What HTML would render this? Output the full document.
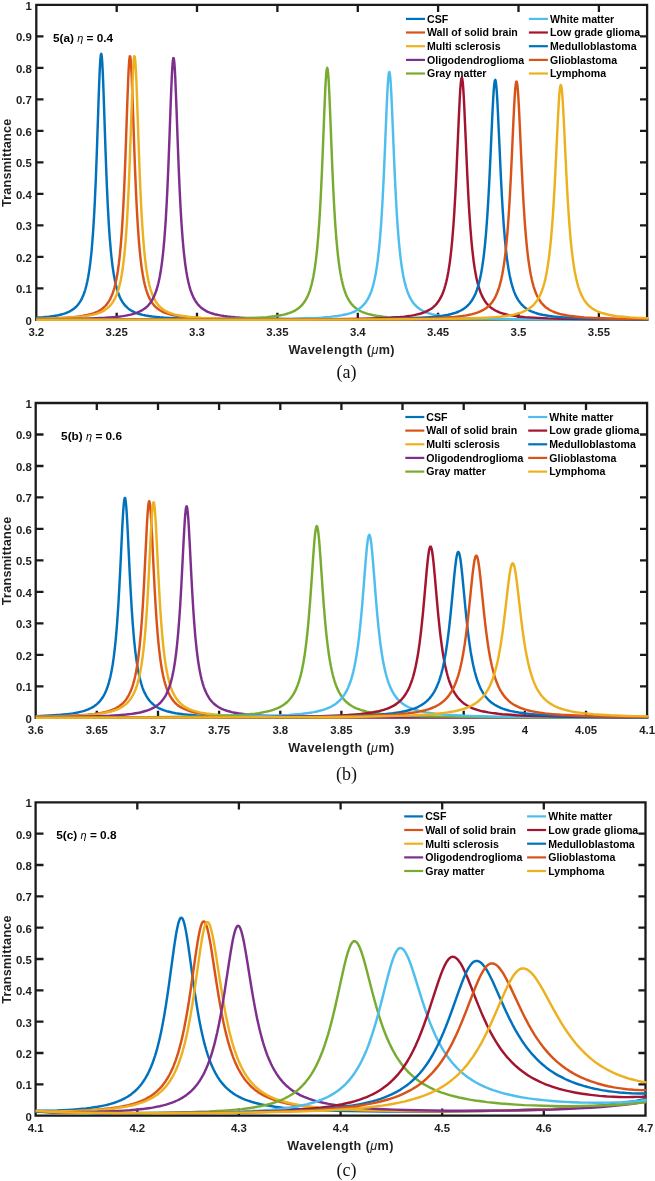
<!DOCTYPE html>
<html lang="en"><head><meta charset="utf-8">
<title>Transmittance spectra</title>
<style>
html,body{margin:0;padding:0;background:#fff;}
body{width:655px;height:1181px;overflow:hidden;}
svg{display:block;will-change:transform;}
text{font-family:'Liberation Sans', Arial, Helvetica, sans-serif;font-weight:bold;fill:#1f1f1f;}
.tk{font-size:11.4px;}
.lb{font-size:12.6px;}
.lg{font-size:10.6px;fill:#000;}
.an{font-size:11.8px;fill:#000;}
.cap{font-family:'Liberation Serif', 'Times New Roman', Times, serif;font-weight:normal;font-size:18px;fill:#111;}
.gk{font-style:italic;font-weight:normal;}
</style></head><body>
<svg width="655" height="1181" viewBox="0 0 655 1181">
<rect width="655" height="1181" fill="#ffffff"/>
<defs>
<clipPath id="clip-a"><rect x="36.1" y="4.9" width="612.2" height="316.2"/></clipPath>
<clipPath id="clip-b"><rect x="35.5" y="403.0" width="612.8" height="316.0"/></clipPath>
<clipPath id="clip-c"><rect x="35.4" y="802.4" width="611.3" height="314.4"/></clipPath>
</defs>
<g id="panel-a">
<path fill="none" stroke="#1a1a1a" stroke-width="2.30" stroke-linejoin="miter" d="M36.3 4.9 H647.1 V319.8 H36.3 Z M36.3 288.3 H43.5 M647.1 288.3 h-7.1 M36.3 256.8 H43.5 M647.1 256.8 h-7.1 M36.3 225.3 H43.5 M647.1 225.3 h-7.1 M36.3 193.8 H43.5 M647.1 193.8 h-7.1 M36.3 162.3 H43.5 M647.1 162.3 h-7.1 M36.3 130.9 H43.5 M647.1 130.9 h-7.1 M36.3 99.4 H43.5 M647.1 99.4 h-7.1 M36.3 67.9 H43.5 M647.1 67.9 h-7.1 M36.3 36.4 H43.5 M647.1 36.4 h-7.1 M116.7 4.9 v7.1 M116.7 319.8 v-7.1 M197.0 4.9 v7.1 M197.0 319.8 v-7.1 M277.4 4.9 v7.1 M277.4 319.8 v-7.1 M357.8 4.9 v7.1 M357.8 319.8 v-7.1 M438.1 4.9 v7.1 M438.1 319.8 v-7.1 M518.5 4.9 v7.1 M518.5 319.8 v-7.1 M598.9 4.9 v7.1 M598.9 319.8 v-7.1"/>
<g fill="none" stroke-width="2.45" stroke-linejoin="round" clip-path="url(#clip-a)">
<path stroke="#0072BD" d="M36.3 317.8 L42.8 317.3 L48.8 316.7 L53.8 316.0 L58.3 315.2 L60.3 314.7 L62.3 314.2 L64.3 313.6 L65.8 313.1 L67.3 312.5 L68.8 311.8 L70.3 311.0 L71.8 310.2 L73.3 309.1 L74.3 308.4 L75.3 307.5 L76.3 306.6 L77.3 305.5 L78.3 304.3 L79.3 302.9 L80.3 301.4 L81.3 299.6 L82.3 297.6 L83.3 295.3 L83.8 294.0 L84.8 291.1 L85.3 289.5 L86.3 285.8 L87.3 281.5 L88.3 276.3 L89.3 270.1 L90.3 262.7 L91.3 253.6 L91.8 248.3 L92.8 235.9 L93.3 228.7 L94.3 211.9 L94.8 202.1 L95.8 179.6 L96.8 153.1 L98.8 93.8 L99.3 80.3 L99.8 68.8 L100.3 60.2 L100.8 55.0 L101.3 53.8 L101.8 56.6 L102.3 63.3 L102.8 73.1 L103.3 85.5 L103.8 99.5 L105.3 144.4 L106.3 172.0 L106.8 184.4 L107.8 206.1 L108.8 224.0 L109.8 238.6 L110.8 250.4 L111.3 255.5 L112.3 264.3 L112.8 268.0 L113.8 274.6 L114.8 280.0 L115.8 284.6 L116.8 288.5 L117.8 291.7 L118.8 294.5 L119.8 297.0 L120.8 299.1 L122.3 301.7 L123.8 303.9 L125.3 305.7 L126.8 307.2 L127.8 308.1 L128.8 308.9 L130.8 310.3 L131.8 310.9 L133.3 311.7 L135.3 312.6 L137.8 313.5 L140.3 314.3 L142.8 314.9 L145.8 315.5 L148.8 316.0 L152.3 316.5 L155.8 316.9 L159.8 317.3 L164.3 317.6 L169.3 317.9 L174.8 318.2 L187.8 318.7 L204.3 319.0 L223.3 319.2 L246.8 319.4 L276.8 319.5 L315.3 319.6 L431.8 319.7 L648.3 319.8"/>
<path stroke="#D95319" d="M36.3 318.8 L47.8 318.5 L57.8 318.1 L66.3 317.6 L73.3 317.1 L79.3 316.4 L82.3 316.0 L84.8 315.5 L87.3 315.0 L89.3 314.5 L91.3 314.0 L93.3 313.4 L95.3 312.6 L96.8 312.0 L98.3 311.3 L99.8 310.4 L101.3 309.4 L102.8 308.3 L104.3 307.0 L105.3 306.0 L106.3 304.9 L107.3 303.6 L108.3 302.2 L109.3 300.6 L110.3 298.8 L111.3 296.6 L112.3 294.2 L112.8 292.9 L113.8 289.8 L114.3 288.1 L115.3 284.3 L116.3 279.7 L116.8 277.1 L117.8 271.2 L118.8 264.0 L119.8 255.3 L120.8 244.7 L121.8 231.8 L122.8 215.9 L123.3 206.8 L124.3 185.6 L125.3 160.5 L127.3 102.9 L128.3 76.8 L128.8 66.7 L129.3 59.7 L129.8 56.2 L130.3 56.6 L130.8 60.8 L131.3 68.5 L131.8 79.1 L132.3 91.8 L134.8 163.2 L135.8 187.9 L136.8 208.7 L137.8 225.8 L138.8 239.9 L139.8 251.3 L140.3 256.3 L141.3 264.8 L141.8 268.5 L142.8 274.8 L143.8 280.2 L144.8 284.7 L145.8 288.5 L146.8 291.7 L147.8 294.5 L148.8 296.9 L149.8 298.9 L151.3 301.6 L152.8 303.8 L154.3 305.6 L155.8 307.1 L156.8 308.0 L157.8 308.8 L159.8 310.2 L161.8 311.3 L163.8 312.3 L165.8 313.1 L168.3 313.9 L170.8 314.6 L173.8 315.3 L176.8 315.8 L180.3 316.3 L183.8 316.8 L187.8 317.2 L192.3 317.5 L197.3 317.9 L202.3 318.1 L214.8 318.6 L230.3 318.9 L248.3 319.2 L270.8 319.4 L299.3 319.5 L336.3 319.6 L445.8 319.7 L648.3 319.8"/>
<path stroke="#EDB120" d="M36.3 318.9 L48.3 318.6 L58.8 318.3 L67.8 317.8 L75.3 317.3 L81.8 316.6 L84.8 316.3 L87.3 315.9 L89.8 315.4 L92.3 314.9 L94.3 314.4 L96.3 313.9 L98.3 313.2 L99.8 312.6 L101.8 311.8 L103.3 311.0 L104.8 310.1 L106.3 309.1 L107.8 307.9 L108.8 307.0 L110.3 305.5 L111.3 304.3 L112.3 302.9 L113.3 301.4 L114.3 299.7 L115.3 297.7 L116.3 295.5 L116.8 294.2 L117.8 291.4 L118.3 289.8 L119.3 286.3 L120.3 282.1 L120.8 279.7 L121.8 274.3 L122.8 267.7 L123.8 259.9 L124.8 250.3 L125.8 238.6 L126.8 224.3 L127.3 215.9 L128.3 196.6 L128.8 185.6 L129.8 160.5 L131.8 102.9 L132.8 76.8 L133.3 66.7 L133.8 59.7 L134.3 56.2 L134.8 56.6 L135.3 60.8 L135.8 68.5 L136.3 79.1 L136.8 91.8 L139.3 163.2 L140.3 187.9 L141.3 208.7 L142.3 225.8 L143.3 239.9 L144.3 251.3 L144.8 256.3 L145.8 264.8 L146.3 268.5 L147.3 274.8 L148.3 280.2 L149.3 284.7 L150.3 288.5 L151.3 291.7 L152.3 294.5 L153.3 296.9 L154.3 298.9 L155.8 301.6 L157.3 303.8 L158.8 305.6 L160.3 307.1 L161.3 308.0 L162.3 308.8 L164.3 310.2 L166.3 311.3 L168.3 312.3 L170.3 313.1 L172.8 313.9 L175.3 314.6 L178.3 315.3 L181.3 315.8 L184.8 316.3 L188.3 316.8 L192.3 317.2 L196.8 317.5 L201.8 317.9 L206.8 318.1 L219.3 318.6 L234.8 318.9 L252.8 319.2 L275.3 319.4 L303.3 319.5 L339.8 319.6 L448.3 319.7 L648.3 319.8"/>
<path stroke="#7E2F8E" d="M36.3 319.3 L55.8 319.1 L71.8 318.9 L84.8 318.6 L95.8 318.2 L105.3 317.7 L113.3 317.1 L119.8 316.5 L122.8 316.1 L125.8 315.6 L128.3 315.1 L130.8 314.6 L133.3 313.9 L135.3 313.3 L137.3 312.6 L139.3 311.7 L141.3 310.7 L142.8 309.8 L144.3 308.8 L145.8 307.7 L147.3 306.3 L148.3 305.3 L149.8 303.5 L150.8 302.2 L151.8 300.6 L152.8 298.9 L153.8 296.9 L154.8 294.6 L155.8 292.0 L156.8 289.0 L157.8 285.4 L158.3 283.5 L159.3 279.0 L159.8 276.5 L160.8 270.7 L161.3 267.4 L162.3 259.9 L163.3 250.8 L164.3 239.8 L165.3 226.5 L165.8 218.8 L166.8 201.1 L167.3 190.9 L168.3 168.1 L169.3 142.1 L170.8 100.7 L171.3 88.0 L171.8 76.7 L172.3 67.6 L172.8 61.2 L173.3 58.1 L173.8 58.4 L174.3 62.2 L174.8 69.2 L175.3 78.8 L176.3 103.4 L177.8 144.8 L178.8 170.5 L179.8 193.0 L180.8 212.1 L181.8 227.9 L182.8 241.0 L183.8 251.8 L184.8 260.7 L185.3 264.5 L186.3 271.3 L187.3 277.0 L188.3 281.8 L189.3 285.8 L190.3 289.3 L191.3 292.3 L192.3 294.8 L193.3 297.1 L194.8 299.9 L196.3 302.3 L197.8 304.3 L199.3 305.9 L200.3 306.9 L201.3 307.8 L203.3 309.3 L204.3 309.9 L205.8 310.8 L207.8 311.8 L209.8 312.6 L212.3 313.5 L214.8 314.2 L217.3 314.8 L220.3 315.4 L223.8 316.0 L227.3 316.5 L231.3 316.9 L235.3 317.3 L240.3 317.6 L245.3 317.9 L257.3 318.4 L271.8 318.8 L288.8 319.1 L309.8 319.3 L336.3 319.4 L370.3 319.5 L469.8 319.7 L648.3 319.8"/>
<path stroke="#77AC30" d="M36.3 319.7 L132.3 319.5 L164.8 319.4 L190.3 319.3 L210.8 319.1 L227.8 318.8 L241.3 318.5 L252.8 318.0 L257.8 317.7 L262.8 317.4 L266.8 317.1 L270.8 316.7 L274.3 316.3 L277.8 315.8 L280.8 315.2 L283.8 314.6 L286.3 314.0 L288.8 313.2 L290.8 312.5 L292.8 311.6 L294.8 310.6 L296.3 309.7 L298.3 308.4 L299.8 307.2 L301.3 305.7 L302.8 304.1 L304.3 302.1 L305.3 300.5 L306.8 297.9 L307.8 295.8 L308.8 293.4 L309.8 290.6 L310.8 287.4 L311.8 283.7 L312.8 279.3 L313.3 276.9 L314.3 271.3 L314.8 268.1 L315.8 260.9 L316.3 256.7 L317.3 247.2 L318.3 235.7 L319.3 221.9 L319.8 213.9 L320.8 195.8 L321.8 174.6 L322.8 150.5 L324.3 111.9 L325.3 88.9 L325.8 79.7 L326.3 72.9 L326.8 68.9 L327.3 67.9 L327.8 70.1 L328.3 75.3 L328.8 83.1 L329.3 93.1 L329.8 104.5 L332.3 167.6 L333.3 189.8 L334.3 208.8 L335.3 224.8 L336.3 238.2 L337.3 249.2 L338.3 258.4 L338.8 262.4 L339.8 269.4 L340.3 272.5 L341.3 277.9 L341.8 280.3 L342.8 284.5 L343.8 288.1 L344.8 291.2 L345.8 293.9 L346.8 296.2 L347.8 298.3 L349.3 300.9 L350.8 303.0 L352.3 304.9 L353.8 306.4 L354.8 307.3 L355.8 308.1 L357.3 309.2 L359.3 310.5 L361.3 311.5 L363.3 312.4 L365.3 313.1 L367.8 313.9 L370.3 314.5 L373.3 315.2 L376.3 315.7 L379.8 316.2 L383.3 316.7 L387.3 317.1 L391.8 317.4 L396.3 317.7 L406.8 318.2 L419.3 318.6 L434.3 318.9 L452.8 319.2 L475.8 319.3 L504.3 319.5 L540.3 319.6 L648.3 319.7"/>
<path stroke="#4DBEEE" d="M36.3 319.7 L157.8 319.6 L229.3 319.4 L254.8 319.2 L274.8 319.0 L291.3 318.7 L304.8 318.3 L316.3 317.9 L321.3 317.6 L325.8 317.2 L329.8 316.9 L333.8 316.4 L337.3 316.0 L340.8 315.4 L343.8 314.8 L346.3 314.3 L348.8 313.6 L351.3 312.8 L353.8 311.8 L355.8 310.8 L357.8 309.7 L359.3 308.7 L361.3 307.1 L362.8 305.7 L364.3 304.1 L365.8 302.2 L367.3 299.9 L368.3 298.1 L369.8 295.0 L370.8 292.6 L371.8 289.8 L372.8 286.5 L373.8 282.7 L374.8 278.3 L375.8 273.2 L376.3 270.2 L377.3 263.6 L377.8 259.8 L378.8 251.1 L379.8 240.8 L380.8 228.4 L381.8 213.5 L382.8 195.9 L383.8 175.4 L384.8 152.3 L386.3 115.5 L387.3 93.4 L387.8 84.5 L388.3 77.7 L388.8 73.4 L389.3 72.0 L389.8 73.4 L390.3 77.7 L390.8 84.5 L391.3 93.4 L392.3 115.5 L393.8 152.3 L394.8 175.4 L395.8 195.9 L396.8 213.5 L397.3 221.3 L398.3 234.8 L399.3 246.2 L400.3 255.7 L401.3 263.6 L401.8 267.1 L402.8 273.2 L403.3 275.9 L404.3 280.6 L405.3 284.7 L406.3 288.2 L407.3 291.2 L408.3 293.8 L409.3 296.1 L410.8 299.0 L411.8 300.7 L413.3 302.9 L414.8 304.7 L416.3 306.2 L417.8 307.5 L419.3 308.7 L420.8 309.7 L422.8 310.8 L424.8 311.8 L426.8 312.6 L429.3 313.4 L431.8 314.1 L434.3 314.7 L437.3 315.3 L440.3 315.8 L443.8 316.3 L447.3 316.7 L451.3 317.1 L455.8 317.5 L460.3 317.7 L470.3 318.2 L482.8 318.6 L497.8 318.9 L516.3 319.2 L538.8 319.3 L566.8 319.5 L648.3 319.6"/>
<path stroke="#A2142F" d="M36.3 319.7 L188.3 319.7 L275.8 319.5 L306.3 319.4 L330.3 319.2 L349.8 318.9 L365.8 318.6 L379.3 318.2 L385.3 318.0 L390.8 317.7 L395.8 317.3 L400.3 317.0 L404.3 316.6 L407.8 316.1 L411.3 315.6 L414.3 315.1 L417.3 314.4 L419.8 313.8 L422.3 313.0 L424.8 312.1 L426.8 311.2 L428.8 310.2 L430.3 309.3 L431.3 308.7 L433.3 307.1 L434.3 306.2 L435.3 305.3 L436.8 303.6 L438.3 301.6 L439.8 299.2 L441.3 296.4 L442.3 294.2 L443.3 291.7 L444.3 288.8 L445.3 285.5 L446.3 281.7 L447.3 277.2 L448.3 271.9 L449.3 265.8 L449.8 262.3 L450.8 254.3 L451.3 249.7 L452.3 239.4 L453.3 227.0 L454.3 212.3 L455.3 195.1 L456.3 175.1 L458.8 118.1 L459.8 97.5 L460.3 89.2 L460.8 82.9 L461.3 79.0 L461.8 77.6 L462.3 79.0 L462.8 82.9 L463.3 89.2 L463.8 97.5 L464.3 107.2 L467.3 175.1 L468.3 195.1 L468.8 204.0 L469.3 212.3 L470.3 227.0 L471.3 239.4 L472.3 249.7 L473.3 258.4 L473.8 262.3 L474.8 269.0 L475.3 271.9 L476.3 277.2 L476.8 279.5 L477.8 283.7 L478.8 287.2 L479.8 290.3 L480.8 293.0 L481.8 295.4 L482.8 297.4 L483.8 299.2 L484.8 300.9 L486.3 303.0 L487.3 304.2 L488.8 305.8 L490.3 307.1 L491.8 308.3 L493.3 309.3 L495.3 310.5 L496.8 311.2 L498.8 312.1 L500.8 312.9 L503.3 313.6 L505.8 314.3 L508.3 314.9 L511.3 315.4 L514.3 315.9 L517.3 316.3 L520.8 316.7 L524.8 317.1 L528.8 317.4 L537.8 317.9 L548.3 318.4 L561.3 318.7 L576.8 319.0 L595.8 319.2 L619.3 319.4 L648.3 319.5"/>
<path stroke="#0072BD" d="M36.3 319.7 L202.3 319.7 L297.3 319.5 L330.3 319.4 L356.3 319.2 L376.8 319.0 L393.8 318.7 L408.3 318.3 L420.3 317.8 L425.3 317.5 L430.3 317.1 L434.3 316.8 L438.3 316.3 L441.8 315.9 L445.3 315.3 L448.3 314.7 L451.3 314.0 L453.8 313.3 L456.3 312.5 L458.8 311.5 L460.8 310.5 L462.8 309.4 L464.8 308.0 L466.8 306.4 L468.3 305.0 L469.8 303.3 L471.3 301.3 L472.8 299.0 L474.3 296.2 L475.8 292.9 L476.8 290.2 L477.8 287.2 L478.8 283.7 L479.8 279.7 L480.8 275.0 L481.8 269.5 L482.3 266.4 L483.3 259.4 L483.8 255.5 L484.8 246.5 L485.8 235.8 L486.3 229.7 L487.3 216.0 L488.3 199.8 L489.3 181.2 L490.3 160.3 L492.3 115.9 L493.3 96.8 L493.8 89.3 L494.3 83.9 L494.8 80.6 L495.3 79.9 L495.8 81.6 L496.3 85.8 L496.8 92.1 L497.3 100.2 L497.8 109.7 L500.8 175.1 L501.8 194.5 L502.3 203.3 L502.8 211.4 L503.8 225.8 L504.8 238.1 L505.8 248.4 L506.8 257.1 L507.3 260.9 L508.3 267.7 L509.3 273.4 L509.8 276.0 L510.8 280.5 L511.3 282.6 L512.3 286.2 L513.3 289.4 L514.3 292.1 L515.3 294.5 L516.3 296.6 L517.3 298.5 L518.3 300.1 L519.3 301.6 L520.8 303.5 L521.8 304.7 L523.3 306.2 L524.8 307.4 L526.3 308.5 L527.8 309.5 L529.3 310.4 L530.8 311.1 L532.8 312.0 L534.8 312.7 L537.3 313.5 L539.8 314.2 L542.3 314.8 L545.3 315.3 L548.3 315.8 L551.3 316.2 L554.8 316.6 L562.3 317.3 L571.3 317.8 L581.8 318.3 L594.3 318.6 L608.8 318.9 L626.8 319.1 L648.3 319.3"/>
<path stroke="#D95319" d="M36.3 319.8 L212.3 319.7 L312.3 319.5 L346.8 319.4 L373.8 319.2 L395.3 319.0 L412.8 318.7 L427.8 318.4 L440.3 317.9 L445.3 317.6 L450.3 317.2 L454.8 316.9 L458.8 316.4 L462.8 315.9 L466.3 315.4 L469.3 314.8 L472.3 314.1 L474.8 313.4 L477.3 312.6 L479.8 311.7 L481.8 310.7 L483.3 309.9 L484.3 309.3 L486.3 308.0 L487.3 307.2 L488.3 306.3 L489.8 304.9 L491.3 303.2 L492.8 301.2 L494.3 298.8 L495.8 296.0 L497.3 292.5 L498.3 289.8 L499.3 286.8 L500.3 283.2 L501.3 279.1 L502.3 274.3 L503.3 268.6 L503.8 265.5 L504.8 258.3 L505.3 254.2 L506.3 245.0 L507.3 234.0 L507.8 227.8 L508.8 213.6 L509.8 197.1 L510.8 178.1 L511.8 157.0 L513.3 123.6 L514.3 103.4 L514.8 95.1 L515.3 88.4 L515.8 83.8 L516.3 81.6 L516.8 81.9 L517.3 84.6 L517.8 89.6 L518.3 96.6 L518.8 105.3 L519.3 115.1 L521.8 169.9 L522.8 189.8 L523.3 198.9 L523.8 207.3 L524.8 222.4 L525.8 235.2 L526.8 246.0 L527.8 255.1 L528.3 259.1 L529.3 266.1 L530.3 272.1 L530.8 274.8 L531.8 279.5 L532.3 281.6 L533.3 285.4 L533.8 287.1 L534.8 290.1 L535.3 291.5 L536.3 294.0 L537.3 296.2 L538.3 298.1 L539.3 299.8 L540.3 301.3 L541.3 302.7 L542.8 304.4 L543.8 305.5 L545.3 306.9 L546.8 308.0 L548.3 309.1 L549.8 310.0 L551.8 311.0 L553.3 311.7 L555.3 312.5 L557.3 313.2 L559.8 313.9 L562.3 314.5 L564.8 315.0 L567.3 315.5 L570.3 315.9 L573.3 316.3 L576.8 316.7 L584.3 317.4 L593.3 317.9 L603.8 318.3 L615.8 318.7 L630.3 318.9 L648.3 319.1"/>
<path stroke="#EDB120" d="M36.3 319.8 L231.8 319.7 L341.3 319.6 L378.3 319.4 L407.8 319.3 L431.3 319.1 L450.3 318.8 L466.8 318.5 L479.8 318.0 L485.8 317.7 L490.8 317.4 L495.3 317.1 L499.8 316.7 L503.8 316.2 L507.3 315.7 L510.8 315.2 L513.8 314.6 L516.8 313.8 L519.3 313.1 L521.8 312.3 L524.3 311.2 L526.8 310.0 L528.8 308.8 L530.8 307.3 L531.8 306.5 L532.8 305.6 L533.8 304.6 L534.8 303.5 L536.3 301.6 L537.8 299.4 L539.3 296.7 L540.8 293.5 L541.8 291.0 L542.8 288.2 L543.3 286.6 L544.3 283.1 L545.3 279.1 L546.3 274.4 L547.3 268.9 L547.8 265.8 L548.8 258.9 L549.3 255.0 L550.3 246.1 L551.3 235.6 L552.3 223.3 L553.3 208.8 L553.8 200.7 L554.8 182.8 L555.8 162.8 L557.8 120.5 L558.8 102.2 L559.3 94.9 L559.8 89.5 L560.3 86.0 L560.8 84.9 L561.3 86.0 L561.8 89.5 L562.3 94.9 L562.8 102.2 L563.8 120.5 L566.3 173.0 L567.3 192.0 L567.8 200.7 L568.8 216.3 L569.8 229.7 L570.8 241.1 L571.8 250.7 L572.8 258.9 L573.8 265.8 L574.8 271.7 L575.8 276.8 L576.3 279.1 L577.3 283.1 L578.3 286.6 L578.8 288.2 L579.8 291.0 L580.3 292.3 L581.3 294.6 L582.3 296.7 L583.3 298.5 L584.3 300.2 L585.3 301.6 L586.3 302.9 L587.3 304.1 L588.3 305.1 L589.8 306.5 L590.8 307.3 L592.3 308.4 L593.8 309.4 L595.3 310.3 L596.8 311.0 L598.8 311.9 L600.8 312.6 L602.8 313.3 L604.8 313.8 L606.8 314.3 L608.8 314.8 L611.3 315.2 L613.8 315.7 L616.8 316.1 L623.3 316.8 L630.3 317.4 L638.8 317.9 L648.3 318.3"/>
</g>
<text class="tk" x="31.8" y="324.7" text-anchor="end">0</text>
<text class="tk" x="31.8" y="293.2" text-anchor="end">0.1</text>
<text class="tk" x="31.8" y="261.7" text-anchor="end">0.2</text>
<text class="tk" x="31.8" y="230.2" text-anchor="end">0.3</text>
<text class="tk" x="31.8" y="198.7" text-anchor="end">0.4</text>
<text class="tk" x="31.8" y="167.2" text-anchor="end">0.5</text>
<text class="tk" x="31.8" y="135.8" text-anchor="end">0.6</text>
<text class="tk" x="31.8" y="104.3" text-anchor="end">0.7</text>
<text class="tk" x="31.8" y="72.8" text-anchor="end">0.8</text>
<text class="tk" x="31.8" y="41.3" text-anchor="end">0.9</text>
<text class="tk" x="31.8" y="9.8" text-anchor="end">1</text>
<text class="tk" x="36.3" y="335.7" text-anchor="middle">3.2</text>
<text class="tk" x="116.7" y="335.7" text-anchor="middle">3.25</text>
<text class="tk" x="197.0" y="335.7" text-anchor="middle">3.3</text>
<text class="tk" x="277.4" y="335.7" text-anchor="middle">3.35</text>
<text class="tk" x="357.8" y="335.7" text-anchor="middle">3.4</text>
<text class="tk" x="438.1" y="335.7" text-anchor="middle">3.45</text>
<text class="tk" x="518.5" y="335.7" text-anchor="middle">3.5</text>
<text class="tk" x="598.9" y="335.7" text-anchor="middle">3.55</text>
<text class="lb" x="341.7" y="353.7" text-anchor="middle" letter-spacing="0.42">Wavelength (<tspan class="gk">μ</tspan>m)</text>
<text class="lb" transform="translate(11.0 162.8) rotate(-90)" text-anchor="middle" letter-spacing="0.25">Transmittance</text>
<text class="cap" x="346.5" y="377.9" text-anchor="middle">(a)</text>
<text class="an" x="52.9" y="42.3">5(a) <tspan class="gk" font-size="11">η</tspan> = 0.4</text>
<path d="M406.0 18.9 h19" stroke="#0072BD" stroke-width="2.20" fill="none"/>
<text class="lg" x="427.0" y="22.7">CSF</text>
<path d="M406.0 32.5 h19" stroke="#D95319" stroke-width="2.20" fill="none"/>
<text class="lg" x="427.0" y="36.3">Wall of solid brain</text>
<path d="M406.0 46.2 h19" stroke="#EDB120" stroke-width="2.20" fill="none"/>
<text class="lg" x="427.0" y="50.0">Multi sclerosis</text>
<path d="M406.0 59.9 h19" stroke="#7E2F8E" stroke-width="2.20" fill="none"/>
<text class="lg" x="427.0" y="63.6">Oligodendroglioma</text>
<path d="M406.0 73.5 h19" stroke="#77AC30" stroke-width="2.20" fill="none"/>
<text class="lg" x="427.0" y="77.3">Gray matter</text>
<path d="M528.9 18.9 h19" stroke="#4DBEEE" stroke-width="2.20" fill="none"/>
<text class="lg" x="550.0" y="22.7">White matter</text>
<path d="M528.9 32.5 h19" stroke="#A2142F" stroke-width="2.20" fill="none"/>
<text class="lg" x="550.0" y="36.3">Low grade glioma</text>
<path d="M528.9 46.2 h19" stroke="#0072BD" stroke-width="2.20" fill="none"/>
<text class="lg" x="550.0" y="50.0">Medulloblastoma</text>
<path d="M528.9 59.9 h19" stroke="#D95319" stroke-width="2.20" fill="none"/>
<text class="lg" x="550.0" y="63.6">Glioblastoma</text>
<path d="M528.9 73.5 h19" stroke="#EDB120" stroke-width="2.20" fill="none"/>
<text class="lg" x="550.0" y="77.3">Lymphoma</text>
</g>
<g id="panel-b">
<path fill="none" stroke="#1a1a1a" stroke-width="2.30" stroke-linejoin="miter" d="M35.7 403.0 H647.1 V717.8 H35.7 Z M35.7 686.3 H43.5 M647.1 686.3 h-7.1 M35.7 654.8 H43.5 M647.1 654.8 h-7.1 M35.7 623.4 H43.5 M647.1 623.4 h-7.1 M35.7 591.9 H43.5 M647.1 591.9 h-7.1 M35.7 560.4 H43.5 M647.1 560.4 h-7.1 M35.7 528.9 H43.5 M647.1 528.9 h-7.1 M35.7 497.4 H43.5 M647.1 497.4 h-7.1 M35.7 466.0 H43.5 M647.1 466.0 h-7.1 M35.7 434.5 H43.5 M647.1 434.5 h-7.1 M96.8 403.0 v7.1 M96.8 717.8 v-7.1 M158.0 403.0 v7.1 M158.0 717.8 v-7.1 M219.1 403.0 v7.1 M219.1 717.8 v-7.1 M280.3 403.0 v7.1 M280.3 717.8 v-7.1 M341.4 403.0 v7.1 M341.4 717.8 v-7.1 M402.5 403.0 v7.1 M402.5 717.8 v-7.1 M463.7 403.0 v7.1 M463.7 717.8 v-7.1 M524.8 403.0 v7.1 M524.8 717.8 v-7.1 M586.0 403.0 v7.1 M586.0 717.8 v-7.1"/>
<g fill="none" stroke-width="2.45" stroke-linejoin="round" clip-path="url(#clip-b)">
<path stroke="#0072BD" d="M35.7 716.2 L45.2 715.8 L53.7 715.3 L60.7 714.8 L67.2 714.1 L72.7 713.4 L75.2 713.0 L77.7 712.5 L80.2 711.9 L82.2 711.4 L84.2 710.8 L86.2 710.1 L88.2 709.4 L89.7 708.7 L91.2 708.0 L92.7 707.1 L94.2 706.2 L95.7 705.1 L97.2 703.9 L98.2 702.9 L99.7 701.3 L100.7 700.1 L101.7 698.8 L102.7 697.3 L103.7 695.6 L104.7 693.7 L106.2 690.4 L107.2 687.8 L107.7 686.4 L108.7 683.2 L109.2 681.4 L110.2 677.5 L110.7 675.3 L111.7 670.3 L112.7 664.5 L113.7 657.6 L114.7 649.5 L115.7 639.8 L116.7 628.3 L117.2 621.8 L118.2 607.1 L118.7 598.8 L120.2 570.6 L122.2 529.1 L122.7 519.6 L123.2 511.4 L123.7 504.8 L124.2 500.2 L124.7 498.0 L125.2 498.2 L125.7 500.9 L126.2 506.0 L126.7 512.9 L127.2 521.4 L127.7 531.0 L129.7 572.6 L130.7 591.8 L131.7 608.7 L132.7 623.2 L133.7 635.5 L134.2 640.8 L135.2 650.3 L136.2 658.3 L136.7 661.9 L137.7 668.1 L138.2 670.8 L139.2 675.7 L140.2 679.9 L141.2 683.5 L142.2 686.7 L142.7 688.1 L143.7 690.7 L144.7 692.9 L146.2 695.8 L147.7 698.2 L149.2 700.3 L150.7 702.0 L151.7 703.0 L152.7 703.9 L154.7 705.6 L156.7 706.9 L157.7 707.5 L159.2 708.3 L161.7 709.4 L164.2 710.4 L166.7 711.2 L169.2 711.8 L172.2 712.5 L175.7 713.2 L179.2 713.7 L183.2 714.2 L187.2 714.6 L191.7 715.0 L196.7 715.4 L202.2 715.7 L208.2 715.9 L221.7 716.4 L238.7 716.8 L258.2 717.0 L282.7 717.2 L312.7 717.4 L350.7 717.5 L460.2 717.7 L648.2 717.7"/>
<path stroke="#D95319" d="M35.7 716.8 L49.7 716.5 L61.7 716.2 L71.7 715.8 L80.2 715.3 L87.7 714.7 L94.2 714.0 L97.2 713.5 L99.7 713.1 L102.2 712.7 L104.7 712.1 L106.7 711.6 L108.7 711.1 L110.7 710.4 L112.7 709.7 L114.7 708.8 L116.2 708.0 L117.7 707.2 L119.2 706.2 L120.7 705.1 L122.2 703.8 L123.7 702.3 L124.7 701.2 L125.7 700.0 L126.7 698.6 L127.7 697.0 L128.7 695.3 L129.7 693.3 L130.7 691.0 L131.7 688.5 L132.2 687.1 L133.2 683.9 L133.7 682.1 L134.7 678.2 L135.2 676.0 L136.2 671.0 L136.7 668.2 L137.7 661.9 L138.7 654.4 L139.7 645.5 L140.7 634.8 L141.2 628.8 L142.2 615.0 L142.7 607.3 L143.2 598.9 L144.2 580.3 L146.7 528.9 L147.2 519.9 L147.7 512.1 L148.2 506.2 L148.7 502.5 L149.2 501.2 L149.7 502.5 L150.2 506.2 L150.7 512.1 L151.2 519.9 L152.2 538.9 L153.7 570.3 L154.7 589.9 L155.7 607.3 L156.7 622.2 L157.7 634.8 L158.2 640.4 L159.2 650.1 L160.2 658.3 L160.7 661.9 L161.7 668.2 L162.2 671.0 L163.2 676.0 L164.2 680.2 L165.2 683.9 L166.2 687.1 L166.7 688.5 L167.7 691.0 L168.7 693.3 L170.2 696.2 L171.7 698.6 L173.2 700.6 L174.7 702.3 L176.2 703.8 L177.2 704.7 L178.2 705.5 L180.2 706.9 L182.2 708.0 L184.7 709.2 L187.2 710.2 L189.7 711.1 L192.2 711.8 L195.2 712.5 L198.2 713.0 L201.7 713.6 L205.2 714.1 L209.2 714.5 L213.7 714.9 L218.2 715.3 L223.2 715.6 L229.2 715.9 L242.2 716.4 L258.2 716.7 L277.2 717.0 L300.2 717.2 L329.2 717.4 L365.2 717.5 L469.2 717.7 L648.2 717.7"/>
<path stroke="#EDB120" d="M35.7 716.8 L50.2 716.6 L62.7 716.3 L73.2 715.9 L82.2 715.4 L90.2 714.8 L96.7 714.1 L99.7 713.7 L102.7 713.3 L105.2 712.8 L107.7 712.3 L110.2 711.7 L112.2 711.2 L114.2 710.5 L116.2 709.8 L118.2 709.0 L119.7 708.3 L121.7 707.2 L123.2 706.2 L124.7 705.1 L126.2 703.9 L127.7 702.4 L128.7 701.3 L129.7 700.1 L130.7 698.8 L131.7 697.2 L132.7 695.5 L133.7 693.6 L134.7 691.4 L135.7 689.0 L136.2 687.6 L137.2 684.6 L137.7 682.9 L138.7 679.1 L139.2 677.0 L140.2 672.3 L140.7 669.6 L141.7 663.6 L142.7 656.5 L143.7 648.2 L144.7 638.2 L145.7 626.4 L146.7 612.4 L147.2 604.5 L148.2 587.0 L150.7 536.7 L151.7 518.6 L152.2 511.4 L152.7 506.1 L153.2 503.0 L153.7 502.2 L154.2 503.9 L154.7 508.0 L155.2 514.1 L155.7 521.9 L156.2 530.9 L158.2 571.5 L159.2 590.7 L160.2 607.7 L161.2 622.4 L162.2 634.9 L162.7 640.3 L163.7 650.0 L164.7 658.1 L165.2 661.6 L166.2 667.9 L166.7 670.7 L167.7 675.7 L168.7 679.9 L169.7 683.6 L170.7 686.7 L171.2 688.1 L172.2 690.7 L173.2 693.0 L174.7 695.9 L176.2 698.3 L177.7 700.4 L179.2 702.1 L180.7 703.6 L181.7 704.5 L182.7 705.3 L184.7 706.7 L186.7 707.9 L189.2 709.1 L191.7 710.1 L194.2 710.9 L196.7 711.6 L199.7 712.4 L202.7 712.9 L206.2 713.5 L209.7 714.0 L213.7 714.5 L218.2 714.9 L222.7 715.2 L227.7 715.5 L233.7 715.8 L246.7 716.3 L262.7 716.7 L281.2 717.0 L304.2 717.2 L332.7 717.4 L368.7 717.5 L471.7 717.7 L648.2 717.7"/>
<path stroke="#7E2F8E" d="M35.7 717.2 L56.2 717.0 L73.2 716.8 L87.7 716.5 L99.7 716.1 L109.7 715.7 L118.7 715.1 L126.2 714.5 L129.7 714.1 L132.7 713.7 L135.7 713.2 L138.7 712.7 L141.2 712.2 L143.7 711.5 L146.2 710.8 L148.2 710.1 L150.2 709.4 L151.7 708.7 L153.7 707.7 L155.2 706.8 L156.7 705.8 L158.2 704.6 L159.7 703.3 L160.7 702.3 L162.2 700.6 L163.2 699.3 L164.2 697.9 L165.2 696.3 L166.2 694.5 L167.2 692.4 L168.2 690.1 L169.2 687.4 L170.2 684.4 L170.7 682.7 L171.7 678.9 L172.2 676.8 L173.2 672.1 L173.7 669.5 L174.7 663.5 L175.2 660.1 L176.2 652.5 L177.2 643.4 L178.2 632.7 L179.2 620.0 L179.7 612.8 L180.2 605.1 L181.2 588.0 L183.7 539.3 L184.7 521.9 L185.2 515.1 L185.7 510.0 L186.2 507.0 L186.7 506.3 L187.2 507.9 L187.7 511.8 L188.2 517.6 L188.7 525.1 L189.7 543.2 L191.2 573.0 L192.2 591.6 L193.2 608.3 L194.2 622.7 L195.2 635.0 L195.7 640.4 L196.7 649.9 L197.7 658.0 L198.2 661.5 L199.2 667.8 L199.7 670.6 L200.7 675.5 L201.7 679.7 L202.7 683.4 L203.7 686.6 L204.2 688.0 L205.2 690.6 L206.2 692.8 L207.7 695.7 L209.2 698.2 L210.7 700.2 L212.2 702.0 L213.7 703.5 L215.2 704.8 L217.2 706.3 L219.2 707.5 L221.7 708.8 L223.7 709.6 L226.2 710.5 L228.7 711.3 L231.7 712.1 L234.7 712.7 L237.7 713.3 L241.2 713.8 L245.2 714.3 L249.2 714.7 L253.7 715.1 L258.7 715.4 L264.2 715.7 L276.7 716.2 L292.2 716.6 L309.7 716.9 L331.7 717.1 L358.2 717.3 L391.7 717.5 L487.2 717.6 L648.2 717.7"/>
<path stroke="#77AC30" d="M35.7 717.6 L116.7 717.3 L145.7 717.2 L169.7 717.0 L189.7 716.7 L206.2 716.4 L220.2 716.0 L232.2 715.4 L237.7 715.1 L242.7 714.8 L247.2 714.4 L251.2 714.0 L255.2 713.6 L258.7 713.1 L262.2 712.5 L265.2 711.9 L268.2 711.3 L270.7 710.6 L273.2 709.8 L275.7 708.9 L278.2 707.9 L280.2 706.9 L282.2 705.8 L283.7 704.8 L285.7 703.3 L287.2 702.0 L288.7 700.5 L290.2 698.8 L291.7 696.8 L293.2 694.6 L294.7 691.9 L295.7 689.9 L296.7 687.6 L297.7 685.0 L298.7 682.2 L299.7 678.9 L300.7 675.3 L301.7 671.1 L302.7 666.3 L303.2 663.7 L304.2 657.8 L304.7 654.6 L305.7 647.4 L306.7 639.1 L307.7 629.6 L308.7 618.8 L310.2 600.1 L311.2 586.1 L313.2 556.8 L314.2 543.5 L314.7 537.8 L315.2 533.1 L315.7 529.5 L316.2 527.1 L316.7 526.1 L317.2 526.5 L317.7 528.4 L318.2 531.5 L318.7 535.8 L319.2 541.1 L320.2 554.0 L322.7 590.4 L323.7 604.1 L324.7 616.5 L325.2 622.2 L326.2 632.6 L327.2 641.7 L328.2 649.6 L329.2 656.5 L329.7 659.6 L330.7 665.3 L331.7 670.2 L332.7 674.5 L333.7 678.2 L334.7 681.6 L335.7 684.5 L336.7 687.1 L337.7 689.4 L339.2 692.5 L340.2 694.2 L341.7 696.5 L343.2 698.5 L344.7 700.3 L346.2 701.8 L348.2 703.5 L350.2 705.0 L352.2 706.2 L354.2 707.3 L356.2 708.3 L358.7 709.2 L361.2 710.1 L363.7 710.8 L366.7 711.6 L369.7 712.2 L372.7 712.7 L376.2 713.3 L380.2 713.8 L384.2 714.2 L388.7 714.6 L393.7 715.0 L398.7 715.3 L410.7 715.9 L424.2 716.3 L440.7 716.6 L460.2 716.9 L484.2 717.1 L513.2 717.3 L548.7 717.4 L648.2 717.6"/>
<path stroke="#4DBEEE" d="M35.7 717.6 L133.7 717.4 L169.2 717.3 L197.7 717.1 L221.7 716.9 L241.2 716.6 L257.7 716.2 L271.7 715.8 L283.7 715.2 L289.2 714.9 L294.2 714.5 L298.7 714.1 L302.7 713.7 L306.7 713.2 L310.2 712.7 L313.7 712.1 L316.7 711.5 L319.7 710.8 L322.2 710.1 L324.7 709.4 L327.2 708.4 L329.7 707.3 L331.7 706.3 L334.2 704.9 L336.2 703.5 L338.2 701.8 L339.7 700.4 L341.2 698.8 L342.7 697.0 L344.2 694.9 L345.7 692.4 L347.2 689.6 L348.2 687.4 L349.2 685.0 L350.2 682.3 L351.2 679.3 L352.2 675.9 L353.2 672.1 L354.2 667.7 L355.2 662.8 L355.7 660.1 L356.7 654.2 L357.7 647.5 L358.2 643.8 L359.2 635.6 L360.7 621.4 L361.7 610.6 L363.2 592.4 L365.7 560.4 L366.7 549.2 L367.2 544.5 L367.7 540.6 L368.2 537.7 L368.7 535.7 L369.2 534.9 L369.7 535.3 L370.2 536.8 L370.7 539.3 L371.2 542.9 L371.7 547.3 L372.2 552.4 L373.2 564.1 L375.7 596.2 L376.7 608.3 L378.2 624.4 L379.2 633.9 L380.2 642.2 L380.7 646.0 L381.7 652.9 L382.7 659.0 L383.2 661.8 L384.2 666.8 L384.7 669.1 L385.7 673.3 L386.7 677.0 L387.7 680.2 L388.7 683.1 L389.7 685.7 L390.7 688.1 L392.2 691.1 L393.2 692.9 L394.7 695.3 L396.2 697.4 L397.7 699.2 L399.2 700.7 L400.7 702.1 L402.2 703.3 L404.2 704.7 L406.2 706.0 L408.2 707.0 L410.2 707.9 L412.7 708.9 L415.2 709.8 L417.7 710.5 L420.2 711.1 L423.2 711.8 L426.2 712.4 L429.7 712.9 L433.2 713.4 L437.2 713.9 L441.7 714.3 L446.2 714.7 L456.7 715.3 L468.7 715.9 L482.7 716.3 L499.2 716.6 L518.7 716.9 L542.2 717.1 L570.7 717.3 L648.2 717.5"/>
<path stroke="#A2142F" d="M35.7 717.6 L156.2 717.5 L233.2 717.2 L261.2 717.1 L284.7 716.8 L304.2 716.5 L320.2 716.2 L334.2 715.7 L346.2 715.1 L351.2 714.8 L356.2 714.4 L360.7 714.0 L364.7 713.5 L368.7 713.0 L372.2 712.5 L375.7 711.8 L378.7 711.2 L381.7 710.4 L384.2 709.7 L386.7 708.9 L389.2 707.9 L391.7 706.7 L394.2 705.4 L396.2 704.1 L398.2 702.6 L400.2 700.8 L401.7 699.3 L403.2 697.5 L404.7 695.5 L406.2 693.2 L407.2 691.5 L408.7 688.6 L409.7 686.4 L411.2 682.5 L412.2 679.6 L413.2 676.3 L414.2 672.7 L415.7 666.3 L416.7 661.3 L417.2 658.6 L418.2 652.7 L418.7 649.4 L419.7 642.3 L421.2 629.9 L422.7 615.5 L423.7 604.8 L426.7 570.6 L427.7 560.6 L428.2 556.3 L428.7 552.7 L429.2 549.8 L429.7 547.8 L430.2 546.7 L430.7 546.6 L431.2 547.5 L431.7 549.3 L432.2 552.0 L432.7 555.5 L433.2 559.7 L433.7 564.4 L434.7 575.0 L437.2 603.7 L438.2 614.5 L439.7 629.1 L440.7 637.6 L441.7 645.2 L442.7 652.0 L443.7 658.1 L444.2 660.8 L445.2 665.8 L446.7 672.3 L447.7 676.0 L448.7 679.3 L449.7 682.3 L450.7 684.9 L451.7 687.3 L452.7 689.4 L453.7 691.3 L454.7 693.1 L455.7 694.7 L457.2 696.8 L458.7 698.6 L460.2 700.2 L461.7 701.6 L463.2 702.9 L464.7 704.0 L466.7 705.3 L468.7 706.4 L470.7 707.4 L472.7 708.3 L474.7 709.0 L477.2 709.8 L479.7 710.6 L482.2 711.2 L485.2 711.8 L488.2 712.4 L491.2 712.9 L494.7 713.3 L498.2 713.8 L502.2 714.2 L506.7 714.5 L516.2 715.2 L527.2 715.7 L539.7 716.1 L554.7 716.5 L572.2 716.8 L593.2 717.0 L618.2 717.2 L648.2 717.3"/>
<path stroke="#0072BD" d="M35.7 717.7 L165.2 717.5 L247.7 717.3 L278.2 717.1 L303.2 716.9 L323.7 716.6 L341.2 716.2 L356.2 715.8 L368.7 715.2 L374.2 714.9 L379.7 714.6 L384.2 714.2 L388.7 713.7 L392.7 713.3 L396.7 712.7 L400.2 712.1 L403.7 711.5 L406.7 710.8 L409.7 710.0 L412.2 709.2 L414.7 708.3 L417.2 707.3 L419.7 706.0 L422.2 704.6 L424.2 703.2 L426.2 701.6 L427.7 700.3 L428.7 699.2 L429.7 698.1 L431.2 696.3 L432.7 694.2 L434.2 691.8 L435.7 689.0 L436.7 686.9 L438.2 683.3 L439.2 680.6 L440.2 677.5 L441.2 674.1 L442.7 668.3 L444.2 661.3 L445.7 653.0 L447.2 643.1 L448.7 631.5 L450.2 618.0 L451.7 602.9 L454.2 576.4 L455.2 566.9 L455.7 562.8 L456.2 559.2 L456.7 556.2 L457.2 554.0 L457.7 552.5 L458.2 551.9 L458.7 552.2 L459.2 553.3 L459.7 555.2 L460.2 557.9 L460.7 561.3 L461.2 565.2 L462.2 574.4 L465.2 606.0 L466.2 616.1 L467.2 625.4 L468.2 633.9 L469.2 641.7 L470.7 651.8 L471.7 657.6 L473.2 665.2 L474.7 671.5 L476.2 676.9 L477.2 680.0 L478.2 682.8 L479.2 685.3 L480.2 687.6 L481.2 689.6 L482.2 691.4 L483.2 693.1 L484.7 695.4 L485.7 696.7 L487.2 698.5 L488.7 700.1 L490.2 701.5 L491.7 702.7 L493.2 703.8 L494.7 704.8 L496.7 705.9 L498.7 706.9 L500.7 707.8 L502.7 708.6 L505.2 709.5 L507.7 710.2 L510.2 710.9 L512.7 711.4 L515.7 712.0 L518.7 712.5 L522.2 713.0 L525.7 713.5 L529.7 713.9 L538.2 714.6 L547.7 715.2 L558.7 715.7 L571.2 716.1 L585.7 716.5 L603.2 716.8 L623.7 717.0 L648.2 717.2"/>
<path stroke="#D95319" d="M35.7 717.7 L170.2 717.5 L256.2 717.3 L288.2 717.1 L314.2 716.9 L335.7 716.6 L353.7 716.3 L369.2 715.8 L382.7 715.3 L388.7 715.0 L394.2 714.6 L399.2 714.2 L403.7 713.8 L408.2 713.3 L412.2 712.7 L415.7 712.2 L419.2 711.6 L422.2 710.9 L425.2 710.2 L428.2 709.3 L430.7 708.5 L433.2 707.5 L435.7 706.3 L438.2 705.0 L440.2 703.7 L442.2 702.3 L444.2 700.6 L446.2 698.6 L447.7 696.9 L449.2 695.0 L450.7 692.8 L452.2 690.3 L453.7 687.4 L455.2 684.0 L456.2 681.5 L457.2 678.7 L458.2 675.6 L459.2 672.1 L460.2 668.2 L461.7 661.5 L463.2 653.6 L464.7 644.4 L466.2 633.5 L467.7 621.0 L469.2 607.1 L471.7 582.4 L472.7 573.2 L473.2 569.1 L473.7 565.4 L474.2 562.1 L474.7 559.5 L475.2 557.5 L475.7 556.2 L476.2 555.7 L476.7 555.9 L477.2 556.9 L477.7 558.6 L478.2 561.0 L478.7 564.0 L479.2 567.5 L480.2 575.9 L484.2 614.7 L485.2 623.7 L486.2 631.9 L487.2 639.5 L488.7 649.5 L490.2 658.0 L491.7 665.2 L493.2 671.3 L494.2 674.9 L495.2 678.1 L496.7 682.3 L497.7 684.7 L498.7 687.0 L499.7 689.0 L500.7 690.8 L501.7 692.5 L503.2 694.7 L504.2 696.1 L505.7 697.9 L506.7 698.9 L508.2 700.4 L509.7 701.7 L511.2 702.9 L512.7 703.9 L514.7 705.2 L516.7 706.2 L518.7 707.2 L520.7 708.0 L522.7 708.7 L524.7 709.4 L527.2 710.1 L529.7 710.8 L532.7 711.4 L535.7 712.0 L538.7 712.5 L545.2 713.4 L552.7 714.1 L561.2 714.8 L571.2 715.3 L582.2 715.8 L595.2 716.2 L610.2 716.5 L627.7 716.8 L648.2 717.0"/>
<path stroke="#EDB120" d="M35.7 717.7 L181.7 717.5 L275.2 717.3 L309.7 717.1 L337.7 716.9 L361.2 716.7 L380.7 716.3 L397.7 715.9 L412.2 715.4 L424.2 714.7 L429.7 714.4 L434.7 713.9 L439.2 713.5 L443.7 713.0 L447.7 712.4 L451.2 711.8 L454.7 711.2 L457.7 710.5 L460.7 709.7 L463.7 708.8 L466.7 707.8 L469.2 706.7 L471.7 705.5 L473.7 704.4 L475.7 703.2 L477.7 701.7 L479.7 700.0 L481.7 698.1 L482.7 697.0 L483.7 695.8 L485.2 693.9 L486.7 691.6 L488.2 689.1 L489.7 686.2 L490.7 684.0 L492.2 680.3 L493.2 677.5 L494.2 674.4 L495.2 671.0 L496.7 665.3 L497.7 660.9 L498.7 656.0 L500.2 647.8 L501.7 638.2 L503.2 627.3 L504.7 615.2 L508.2 584.9 L509.2 577.1 L509.7 573.7 L510.2 570.7 L510.7 568.1 L511.2 566.0 L511.7 564.5 L512.2 563.5 L512.7 563.2 L513.2 563.5 L513.7 564.5 L514.2 566.0 L514.7 568.1 L515.2 570.7 L515.7 573.7 L516.2 577.1 L517.2 584.9 L521.2 619.4 L522.2 627.3 L523.2 634.8 L524.2 641.6 L525.7 650.7 L526.7 656.0 L528.2 663.1 L529.7 669.2 L531.2 674.4 L532.7 678.9 L533.7 681.6 L534.7 684.0 L536.2 687.2 L537.2 689.1 L538.2 690.8 L539.2 692.4 L540.2 693.9 L541.2 695.2 L542.7 697.0 L543.7 698.1 L545.2 699.6 L546.7 700.9 L548.2 702.1 L549.7 703.2 L551.2 704.1 L552.7 705.0 L554.7 706.1 L556.7 707.0 L558.7 707.8 L560.7 708.5 L563.2 709.3 L565.2 709.9 L567.7 710.5 L570.2 711.1 L573.2 711.7 L576.2 712.2 L579.2 712.6 L585.7 713.4 L593.2 714.2 L601.2 714.7 L610.7 715.3 L621.7 715.7 L634.2 716.1 L648.2 716.4"/>
</g>
<text class="tk" x="31.8" y="722.7" text-anchor="end">0</text>
<text class="tk" x="31.8" y="691.2" text-anchor="end">0.1</text>
<text class="tk" x="31.8" y="659.7" text-anchor="end">0.2</text>
<text class="tk" x="31.8" y="628.3" text-anchor="end">0.3</text>
<text class="tk" x="31.8" y="596.8" text-anchor="end">0.4</text>
<text class="tk" x="31.8" y="565.3" text-anchor="end">0.5</text>
<text class="tk" x="31.8" y="533.8" text-anchor="end">0.6</text>
<text class="tk" x="31.8" y="502.3" text-anchor="end">0.7</text>
<text class="tk" x="31.8" y="470.9" text-anchor="end">0.8</text>
<text class="tk" x="31.8" y="439.4" text-anchor="end">0.9</text>
<text class="tk" x="31.8" y="407.9" text-anchor="end">1</text>
<text class="tk" x="35.7" y="733.7" text-anchor="middle">3.6</text>
<text class="tk" x="96.8" y="733.7" text-anchor="middle">3.65</text>
<text class="tk" x="158.0" y="733.7" text-anchor="middle">3.7</text>
<text class="tk" x="219.1" y="733.7" text-anchor="middle">3.75</text>
<text class="tk" x="280.3" y="733.7" text-anchor="middle">3.8</text>
<text class="tk" x="341.4" y="733.7" text-anchor="middle">3.85</text>
<text class="tk" x="402.5" y="733.7" text-anchor="middle">3.9</text>
<text class="tk" x="463.7" y="733.7" text-anchor="middle">3.95</text>
<text class="tk" x="524.8" y="733.7" text-anchor="middle">4</text>
<text class="tk" x="586.0" y="733.7" text-anchor="middle">4.05</text>
<text class="tk" x="647.1" y="733.7" text-anchor="middle">4.1</text>
<text class="lb" x="341.4" y="751.7" text-anchor="middle" letter-spacing="0.42">Wavelength (<tspan class="gk">μ</tspan>m)</text>
<text class="lb" transform="translate(11.0 560.9) rotate(-90)" text-anchor="middle" letter-spacing="0.25">Transmittance</text>
<text class="cap" x="346.5" y="780.0" text-anchor="middle">(b)</text>
<text class="an" x="61.1" y="439.9">5(b) <tspan class="gk" font-size="11">η</tspan> = 0.6</text>
<path d="M405.3 417.0 h19" stroke="#0072BD" stroke-width="2.20" fill="none"/>
<text class="lg" x="426.3" y="420.8">CSF</text>
<path d="M405.3 430.6 h19" stroke="#D95319" stroke-width="2.20" fill="none"/>
<text class="lg" x="426.3" y="434.4">Wall of solid brain</text>
<path d="M405.3 444.3 h19" stroke="#EDB120" stroke-width="2.20" fill="none"/>
<text class="lg" x="426.3" y="448.1">Multi sclerosis</text>
<path d="M405.3 457.9 h19" stroke="#7E2F8E" stroke-width="2.20" fill="none"/>
<text class="lg" x="426.3" y="461.8">Oligodendroglioma</text>
<path d="M405.3 471.6 h19" stroke="#77AC30" stroke-width="2.20" fill="none"/>
<text class="lg" x="426.3" y="475.4">Gray matter</text>
<path d="M528.2 417.0 h19" stroke="#4DBEEE" stroke-width="2.20" fill="none"/>
<text class="lg" x="549.3" y="420.8">White matter</text>
<path d="M528.2 430.6 h19" stroke="#A2142F" stroke-width="2.20" fill="none"/>
<text class="lg" x="549.3" y="434.4">Low grade glioma</text>
<path d="M528.2 444.3 h19" stroke="#0072BD" stroke-width="2.20" fill="none"/>
<text class="lg" x="549.3" y="448.1">Medulloblastoma</text>
<path d="M528.2 457.9 h19" stroke="#D95319" stroke-width="2.20" fill="none"/>
<text class="lg" x="549.3" y="461.8">Glioblastoma</text>
<path d="M528.2 471.6 h19" stroke="#EDB120" stroke-width="2.20" fill="none"/>
<text class="lg" x="549.3" y="475.4">Lymphoma</text>
</g>
<g id="panel-c">
<path fill="none" stroke="#1a1a1a" stroke-width="2.30" stroke-linejoin="miter" d="M35.6 802.4 H645.5 V1115.6 H35.6 Z M35.6 1084.3 H43.5 M645.5 1084.3 h-7.1 M35.6 1053.0 H43.5 M645.5 1053.0 h-7.1 M35.6 1021.6 H43.5 M645.5 1021.6 h-7.1 M35.6 990.3 H43.5 M645.5 990.3 h-7.1 M35.6 959.0 H43.5 M645.5 959.0 h-7.1 M35.6 927.7 H43.5 M645.5 927.7 h-7.1 M35.6 896.4 H43.5 M645.5 896.4 h-7.1 M35.6 865.0 H43.5 M645.5 865.0 h-7.1 M35.6 833.7 H43.5 M645.5 833.7 h-7.1 M137.3 802.4 v7.1 M137.3 1115.6 v-7.1 M238.9 802.4 v7.1 M238.9 1115.6 v-7.1 M340.6 802.4 v7.1 M340.6 1115.6 v-7.1 M442.2 802.4 v7.1 M442.2 1115.6 v-7.1 M543.8 802.4 v7.1 M543.8 1115.6 v-7.1"/>
<g fill="none" stroke-width="2.45" stroke-linejoin="round" clip-path="url(#clip-c)">
<path stroke="#0072BD" d="M35.6 1110.7 L46.1 1110.6 L57.1 1110.4 L67.6 1109.9 L72.6 1109.6 L77.6 1109.2 L82.1 1108.8 L86.1 1108.4 L90.1 1107.9 L94.1 1107.3 L97.6 1106.8 L101.1 1106.1 L104.6 1105.4 L107.6 1104.7 L110.6 1103.9 L113.6 1103.0 L116.1 1102.1 L118.6 1101.2 L121.1 1100.1 L123.1 1099.1 L125.6 1097.8 L127.6 1096.7 L129.6 1095.4 L131.6 1093.9 L133.6 1092.3 L135.1 1091.0 L137.1 1089.1 L138.6 1087.5 L140.1 1085.8 L141.6 1083.9 L143.1 1081.8 L144.1 1080.3 L145.6 1077.9 L146.6 1076.1 L148.1 1073.3 L149.1 1071.2 L150.1 1069.0 L151.1 1066.7 L152.1 1064.2 L153.1 1061.5 L154.1 1058.6 L155.1 1055.6 L156.1 1052.3 L157.1 1048.8 L158.1 1045.0 L159.1 1040.9 L160.1 1036.6 L161.1 1032.0 L162.6 1024.5 L164.1 1016.2 L165.6 1007.3 L167.1 997.5 L168.6 987.2 L174.1 947.0 L175.6 937.1 L176.6 931.3 L177.6 926.4 L178.1 924.2 L178.6 922.4 L179.1 920.8 L179.6 919.6 L180.1 918.6 L180.6 918.0 L181.1 917.7 L181.6 917.7 L182.1 918.1 L182.6 918.8 L183.1 919.8 L183.6 921.2 L184.1 922.8 L184.6 924.8 L185.6 929.4 L186.6 934.9 L188.1 944.5 L189.6 955.1 L193.1 980.8 L195.1 994.7 L197.1 1007.5 L198.6 1016.2 L199.6 1021.7 L201.1 1029.2 L202.1 1033.8 L203.6 1040.2 L204.6 1044.1 L206.1 1049.5 L207.6 1054.3 L209.1 1058.7 L210.6 1062.7 L212.1 1066.3 L213.6 1069.5 L215.6 1073.4 L217.6 1076.8 L219.6 1079.9 L221.6 1082.6 L223.6 1084.9 L225.6 1087.1 L228.1 1089.4 L230.6 1091.5 L232.1 1092.6 L233.6 1093.7 L236.1 1095.2 L239.1 1096.9 L242.1 1098.3 L245.6 1099.8 L248.1 1100.7 L250.6 1101.5 L253.1 1102.3 L255.6 1103.0 L258.6 1103.7 L261.6 1104.4 L264.6 1105.0 L268.1 1105.6 L275.1 1106.7 L282.6 1107.6 L291.1 1108.4 L300.6 1109.1 L311.1 1109.7 L322.6 1110.2 L335.6 1110.7 L350.1 1111.0 L366.1 1111.3 L383.6 1111.4 L402.6 1111.5 L422.6 1111.5 L444.1 1111.4 L465.1 1111.2 L485.1 1110.9 L504.1 1110.5 L521.6 1110.0 L538.1 1109.5 L553.1 1108.9 L567.1 1108.1 L579.6 1107.3 L591.6 1106.4 L602.6 1105.4 L612.6 1104.3 L622.1 1103.1 L630.6 1101.8 L635.1 1101.1 L639.1 1100.3 L646.6 1098.7"/>
<path stroke="#D95319" d="M35.6 1111.1 L41.1 1111.2 L47.1 1111.3 L53.6 1111.3 L60.1 1111.2 L73.1 1110.9 L79.6 1110.7 L85.6 1110.4 L91.1 1110.1 L96.6 1109.7 L101.6 1109.3 L106.1 1108.8 L110.6 1108.3 L114.6 1107.7 L118.6 1107.1 L122.1 1106.5 L125.6 1105.8 L128.6 1105.1 L131.6 1104.3 L134.6 1103.4 L137.6 1102.4 L140.1 1101.5 L142.6 1100.4 L145.1 1099.3 L147.6 1097.9 L149.6 1096.8 L151.6 1095.5 L153.6 1094.0 L155.6 1092.4 L157.6 1090.7 L159.6 1088.7 L161.1 1087.1 L162.6 1085.3 L164.1 1083.3 L165.6 1081.2 L167.1 1078.9 L168.6 1076.3 L169.6 1074.5 L171.1 1071.5 L172.1 1069.4 L173.6 1065.9 L174.6 1063.3 L175.6 1060.6 L176.6 1057.7 L177.6 1054.6 L178.6 1051.3 L179.6 1047.7 L180.6 1043.9 L181.6 1039.9 L182.6 1035.6 L184.1 1028.6 L186.1 1018.1 L187.6 1009.5 L189.1 1000.2 L190.6 990.3 L196.1 951.7 L197.6 942.1 L198.6 936.3 L199.6 931.3 L200.1 929.2 L200.6 927.2 L201.1 925.5 L201.6 924.1 L202.1 923.0 L202.6 922.2 L203.1 921.6 L203.6 921.4 L204.1 921.5 L204.6 921.9 L205.1 922.5 L205.6 923.4 L206.1 924.6 L206.6 926.0 L207.1 927.7 L207.6 929.5 L208.6 933.9 L210.1 941.8 L211.6 950.8 L216.6 983.5 L218.6 996.0 L220.6 1007.6 L222.6 1018.1 L223.6 1022.9 L225.1 1029.7 L226.1 1033.9 L227.6 1039.8 L228.6 1043.4 L230.1 1048.4 L231.6 1052.9 L233.1 1057.1 L234.6 1060.9 L236.6 1065.4 L238.1 1068.5 L240.1 1072.2 L242.1 1075.4 L244.1 1078.4 L246.1 1081.0 L248.1 1083.3 L250.1 1085.5 L252.6 1087.8 L255.1 1089.9 L256.6 1091.0 L258.1 1092.1 L260.6 1093.7 L263.6 1095.4 L266.6 1096.9 L270.1 1098.4 L272.1 1099.2 L274.6 1100.1 L277.1 1100.9 L279.6 1101.7 L282.1 1102.3 L285.1 1103.1 L288.1 1103.7 L291.1 1104.3 L297.1 1105.4 L304.1 1106.4 L311.6 1107.3 L320.1 1108.1 L329.1 1108.8 L339.1 1109.3 L350.1 1109.9 L362.1 1110.3 L375.1 1110.6 L389.6 1110.9 L405.1 1111.1 L422.1 1111.2 L442.1 1111.2 L462.1 1111.1 L482.1 1110.9 L501.1 1110.6 L519.1 1110.3 L535.6 1109.8 L551.1 1109.2 L565.6 1108.6 L578.6 1107.8 L590.6 1107.0 L601.6 1106.1 L612.1 1105.1 L621.6 1104.0 L630.6 1102.7 L639.1 1101.3 L646.6 1099.9"/>
<path stroke="#EDB120" d="M35.6 1111.0 L41.6 1111.2 L47.6 1111.3 L54.1 1111.3 L60.6 1111.3 L67.6 1111.2 L74.1 1111.1 L80.6 1110.8 L86.6 1110.6 L92.1 1110.3 L97.6 1110.0 L102.6 1109.6 L107.6 1109.1 L112.1 1108.7 L116.6 1108.1 L120.6 1107.5 L124.6 1106.9 L128.1 1106.2 L131.6 1105.5 L134.6 1104.7 L137.6 1103.9 L140.6 1102.9 L143.1 1102.1 L145.6 1101.1 L148.1 1100.0 L150.6 1098.7 L152.6 1097.6 L155.1 1096.0 L157.1 1094.7 L159.1 1093.1 L161.1 1091.4 L163.1 1089.5 L164.6 1087.9 L166.1 1086.2 L167.6 1084.3 L169.1 1082.2 L170.6 1080.0 L172.1 1077.5 L173.1 1075.7 L174.6 1072.8 L175.6 1070.7 L177.1 1067.3 L178.1 1064.9 L179.1 1062.2 L180.1 1059.4 L181.1 1056.4 L182.1 1053.1 L183.1 1049.7 L184.1 1046.0 L185.1 1042.0 L186.1 1037.8 L187.6 1030.9 L189.6 1020.6 L191.1 1012.1 L192.6 1002.9 L194.1 993.1 L200.1 950.8 L201.6 941.3 L202.6 935.6 L203.6 930.8 L204.1 928.7 L204.6 926.9 L205.1 925.3 L205.6 924.1 L206.1 923.1 L206.6 922.4 L207.1 922.1 L207.6 922.1 L208.1 922.3 L208.6 922.8 L209.1 923.6 L209.6 924.6 L210.1 925.9 L210.6 927.5 L211.6 931.2 L212.1 933.3 L213.1 938.2 L214.1 943.7 L215.6 952.6 L220.1 981.7 L222.6 997.2 L224.1 1005.8 L225.1 1011.2 L226.1 1016.4 L227.6 1023.6 L229.6 1032.4 L230.6 1036.4 L232.1 1042.0 L233.1 1045.4 L234.6 1050.2 L235.6 1053.1 L237.1 1057.2 L238.6 1061.0 L240.6 1065.5 L242.1 1068.5 L244.1 1072.1 L246.1 1075.4 L248.1 1078.3 L250.1 1080.9 L252.1 1083.2 L254.1 1085.3 L256.6 1087.7 L259.1 1089.8 L260.6 1090.9 L262.1 1092.0 L264.6 1093.6 L267.6 1095.3 L270.6 1096.8 L274.1 1098.3 L276.1 1099.1 L278.6 1100.0 L281.1 1100.8 L283.6 1101.5 L286.1 1102.2 L289.1 1103.0 L294.6 1104.1 L300.6 1105.2 L307.6 1106.2 L315.1 1107.1 L323.6 1107.9 L332.6 1108.6 L342.6 1109.2 L353.1 1109.7 L365.1 1110.2 L378.1 1110.5 L392.6 1110.8 L408.1 1111.0 L424.1 1111.1 L443.6 1111.1 L463.6 1111.1 L483.1 1110.9 L502.1 1110.6 L520.1 1110.2 L536.6 1109.7 L552.1 1109.2 L566.1 1108.5 L578.6 1107.8 L590.6 1107.0 L601.6 1106.1 L612.1 1105.1 L621.6 1104.0 L630.6 1102.7 L639.1 1101.3 L646.6 1099.9"/>
<path stroke="#7E2F8E" d="M35.6 1111.4 L41.6 1111.7 L48.6 1111.9 L55.6 1112.0 L63.6 1112.1 L72.1 1112.1 L80.6 1112.0 L89.1 1111.9 L97.1 1111.8 L104.6 1111.5 L111.6 1111.3 L118.1 1111.0 L124.1 1110.6 L129.6 1110.3 L135.1 1109.8 L140.1 1109.3 L144.6 1108.8 L148.6 1108.2 L152.6 1107.6 L156.1 1106.9 L159.6 1106.2 L163.1 1105.4 L166.1 1104.6 L169.1 1103.6 L172.1 1102.6 L174.6 1101.6 L177.1 1100.5 L179.6 1099.3 L182.1 1097.9 L184.6 1096.3 L186.6 1094.9 L188.6 1093.3 L190.6 1091.6 L192.6 1089.7 L194.1 1088.1 L195.6 1086.3 L197.1 1084.5 L198.6 1082.4 L200.1 1080.2 L201.6 1077.7 L203.1 1075.0 L204.6 1072.1 L206.1 1068.8 L207.6 1065.3 L208.6 1062.7 L210.1 1058.6 L211.1 1055.6 L212.1 1052.4 L213.1 1048.9 L214.1 1045.3 L215.1 1041.4 L217.1 1033.0 L219.1 1023.4 L220.6 1015.5 L222.1 1007.1 L224.1 994.9 L229.1 962.0 L230.6 952.5 L232.1 943.8 L233.1 938.6 L234.1 934.2 L234.6 932.3 L235.1 930.6 L235.6 929.2 L236.1 928.0 L236.6 927.0 L237.1 926.4 L237.6 925.9 L238.1 925.8 L238.6 925.9 L239.1 926.3 L239.6 927.0 L240.1 927.9 L240.6 929.1 L241.1 930.5 L241.6 932.1 L242.6 936.0 L243.1 938.2 L244.1 943.1 L245.6 951.4 L247.1 960.5 L251.1 985.5 L253.1 997.4 L255.1 1008.4 L257.1 1018.4 L258.1 1023.0 L259.6 1029.5 L260.6 1033.5 L262.1 1039.1 L263.1 1042.6 L264.6 1047.4 L266.1 1051.9 L267.6 1055.9 L269.1 1059.6 L271.1 1064.0 L272.6 1067.0 L274.6 1070.6 L276.6 1073.9 L278.6 1076.8 L280.6 1079.4 L282.6 1081.8 L284.6 1083.9 L287.1 1086.3 L289.6 1088.4 L292.1 1090.2 L294.6 1091.9 L297.6 1093.7 L300.6 1095.3 L304.1 1096.9 L306.1 1097.7 L308.6 1098.7 L313.1 1100.2 L318.1 1101.6 L323.1 1102.8 L328.6 1103.9 L334.6 1104.9 L341.1 1105.9 L348.1 1106.7 L355.6 1107.4 L364.1 1108.1 L373.1 1108.7 L383.1 1109.2 L393.6 1109.6 L405.1 1110.0 L417.6 1110.3 L431.1 1110.5 L448.1 1110.7 L465.6 1110.8 L484.1 1110.7 L502.1 1110.6 L519.1 1110.3 L535.6 1110.0 L551.1 1109.6 L565.6 1109.0 L578.6 1108.4 L590.6 1107.7 L601.6 1107.0 L612.1 1106.1 L621.6 1105.1 L630.6 1104.1 L639.1 1102.9 L646.6 1101.6"/>
<path stroke="#77AC30" d="M35.6 1111.7 L42.6 1112.1 L51.1 1112.4 L60.1 1112.6 L70.6 1112.8 L83.1 1113.0 L96.6 1113.0 L126.6 1113.0 L155.1 1112.8 L167.6 1112.7 L179.6 1112.4 L190.1 1112.2 L200.1 1111.8 L209.1 1111.5 L217.6 1111.0 L224.1 1110.6 L230.6 1110.1 L236.1 1109.6 L241.6 1109.1 L246.6 1108.5 L251.6 1107.8 L256.1 1107.0 L260.1 1106.3 L264.1 1105.4 L268.1 1104.4 L271.6 1103.5 L275.1 1102.3 L278.6 1101.1 L281.6 1099.9 L284.6 1098.5 L287.1 1097.2 L289.6 1095.8 L292.1 1094.2 L294.6 1092.5 L297.1 1090.6 L299.6 1088.4 L301.6 1086.5 L303.6 1084.4 L305.6 1082.1 L307.6 1079.6 L309.6 1076.9 L311.6 1073.9 L313.1 1071.4 L315.1 1067.8 L316.6 1064.9 L318.1 1061.8 L319.6 1058.4 L321.1 1054.8 L322.6 1051.0 L324.1 1046.8 L325.1 1043.9 L326.6 1039.2 L328.1 1034.3 L330.6 1025.3 L332.6 1017.6 L335.1 1007.1 L337.6 996.0 L342.1 975.4 L344.1 966.6 L346.1 958.5 L347.6 953.2 L348.6 950.1 L349.6 947.4 L350.6 945.1 L351.1 944.1 L351.6 943.3 L352.1 942.6 L352.6 942.1 L353.1 941.6 L353.6 941.3 L354.1 941.2 L354.6 941.2 L355.1 941.3 L355.6 941.5 L356.1 941.8 L356.6 942.3 L357.1 942.9 L357.6 943.5 L358.1 944.3 L358.6 945.2 L359.6 947.3 L360.6 949.8 L361.6 952.5 L363.1 957.2 L365.1 964.2 L367.1 971.7 L372.1 991.2 L374.1 998.8 L376.6 1007.7 L379.1 1016.0 L380.6 1020.7 L382.1 1025.1 L383.6 1029.3 L385.1 1033.3 L386.6 1037.0 L388.1 1040.5 L389.6 1043.8 L391.1 1046.9 L392.6 1049.9 L394.6 1053.5 L396.6 1056.8 L398.6 1059.9 L400.6 1062.8 L402.6 1065.4 L404.6 1067.9 L406.6 1070.2 L408.6 1072.3 L411.1 1074.7 L413.6 1076.9 L416.1 1078.9 L418.6 1080.8 L421.1 1082.5 L423.6 1084.1 L426.6 1085.8 L430.1 1087.7 L433.6 1089.3 L437.1 1090.8 L441.1 1092.3 L445.1 1093.7 L449.6 1095.1 L454.1 1096.3 L459.1 1097.5 L464.1 1098.5 L469.6 1099.6 L475.1 1100.5 L481.1 1101.3 L487.1 1102.1 L493.6 1102.8 L500.6 1103.5 L507.6 1104.0 L516.1 1104.6 L524.6 1105.1 L533.6 1105.4 L543.1 1105.7 L552.6 1105.9 L562.6 1106.1 L572.6 1106.1 L582.1 1106.0 L591.6 1105.8 L600.6 1105.5 L609.1 1105.2 L617.6 1104.7 L625.6 1104.2 L633.1 1103.6 L640.1 1102.9 L646.6 1102.1"/>
<path stroke="#4DBEEE" d="M35.6 1111.5 L42.6 1111.9 L51.1 1112.3 L60.6 1112.6 L71.6 1112.8 L84.1 1113.0 L98.6 1113.1 L131.6 1113.2 L166.6 1113.0 L182.6 1112.9 L197.6 1112.7 L211.1 1112.4 L223.1 1112.1 L234.1 1111.8 L244.6 1111.3 L252.1 1111.0 L259.1 1110.6 L265.6 1110.1 L272.1 1109.6 L278.1 1109.0 L283.6 1108.4 L288.6 1107.7 L293.6 1107.0 L298.1 1106.2 L302.6 1105.3 L306.6 1104.4 L310.6 1103.3 L314.6 1102.2 L318.1 1101.0 L321.6 1099.7 L324.6 1098.4 L327.6 1097.0 L330.6 1095.4 L333.6 1093.6 L336.1 1092.0 L338.6 1090.2 L341.1 1088.2 L343.6 1086.0 L345.6 1084.1 L348.1 1081.4 L350.1 1079.1 L352.1 1076.5 L354.1 1073.8 L356.1 1070.7 L358.1 1067.5 L360.1 1063.9 L361.6 1061.0 L363.6 1056.8 L365.1 1053.4 L366.6 1049.9 L368.1 1046.1 L369.6 1042.0 L371.1 1037.7 L372.6 1033.2 L374.1 1028.4 L376.6 1019.9 L379.1 1010.7 L381.6 1001.1 L386.6 981.3 L388.6 973.6 L390.6 966.5 L391.6 963.2 L392.6 960.1 L393.6 957.4 L394.6 954.9 L395.6 952.8 L396.6 951.0 L397.6 949.6 L398.1 949.1 L398.6 948.7 L399.1 948.4 L399.6 948.1 L400.1 948.0 L400.6 948.1 L401.1 948.1 L401.6 948.3 L402.1 948.6 L402.6 948.9 L403.1 949.3 L404.1 950.4 L405.1 951.8 L406.1 953.5 L407.1 955.5 L408.6 958.8 L409.6 961.4 L410.6 964.0 L412.6 969.8 L414.6 976.0 L420.1 993.8 L422.6 1001.7 L425.6 1010.6 L428.1 1017.6 L429.6 1021.6 L431.1 1025.4 L432.6 1029.0 L434.1 1032.5 L435.6 1035.8 L437.1 1038.9 L438.6 1041.8 L440.1 1044.6 L441.6 1047.3 L443.6 1050.7 L445.1 1053.0 L447.1 1056.0 L449.1 1058.7 L451.1 1061.3 L453.1 1063.7 L455.1 1065.9 L457.1 1068.0 L459.1 1070.0 L461.1 1071.8 L463.6 1074.0 L465.6 1075.6 L468.1 1077.4 L470.6 1079.1 L473.1 1080.7 L476.1 1082.5 L479.6 1084.4 L482.6 1085.8 L486.1 1087.4 L489.6 1088.8 L493.1 1090.1 L497.1 1091.4 L501.1 1092.6 L505.1 1093.7 L509.6 1094.8 L514.1 1095.8 L518.6 1096.7 L523.6 1097.6 L528.6 1098.4 L534.1 1099.1 L539.6 1099.8 L545.6 1100.4 L552.1 1101.0 L558.6 1101.5 L565.6 1101.9 L572.6 1102.2 L579.6 1102.5 L586.6 1102.6 L594.1 1102.7 L601.6 1102.7 L608.6 1102.6 L615.6 1102.4 L622.1 1102.2 L628.6 1101.8 L634.6 1101.4 L640.6 1100.9 L646.6 1100.3"/>
<path stroke="#A2142F" d="M35.6 1111.3 L43.1 1111.8 L51.6 1112.2 L61.6 1112.5 L72.6 1112.7 L85.6 1112.9 L100.6 1113.1 L117.6 1113.1 L136.1 1113.2 L156.6 1113.1 L176.6 1113.0 L195.6 1112.9 L213.1 1112.7 L229.1 1112.4 L243.6 1112.1 L257.1 1111.7 L269.1 1111.3 L278.1 1110.9 L286.6 1110.5 L294.1 1110.0 L301.6 1109.5 L308.1 1109.0 L314.6 1108.3 L320.6 1107.7 L326.6 1106.9 L332.1 1106.1 L337.1 1105.2 L342.1 1104.3 L346.6 1103.3 L351.1 1102.2 L355.1 1101.1 L359.1 1099.8 L363.1 1098.4 L366.6 1097.1 L370.1 1095.5 L373.1 1094.1 L376.1 1092.5 L379.1 1090.7 L382.1 1088.8 L385.1 1086.6 L387.6 1084.7 L390.1 1082.5 L392.6 1080.2 L395.1 1077.6 L397.6 1074.9 L400.1 1071.8 L402.1 1069.2 L404.1 1066.3 L406.1 1063.3 L408.1 1060.0 L410.1 1056.5 L412.1 1052.8 L413.6 1049.8 L415.6 1045.6 L417.6 1041.1 L419.1 1037.5 L421.1 1032.5 L424.1 1024.5 L427.1 1016.0 L430.1 1006.9 L436.1 988.3 L438.6 980.8 L441.1 973.9 L443.1 968.9 L444.6 965.6 L445.6 963.7 L447.1 961.2 L448.1 959.8 L449.1 958.6 L449.6 958.2 L450.6 957.4 L451.1 957.2 L451.6 957.0 L452.1 956.9 L452.6 956.8 L453.6 956.9 L454.1 957.0 L455.1 957.4 L456.1 958.1 L456.6 958.5 L457.6 959.4 L458.6 960.6 L460.1 962.7 L461.6 965.2 L463.1 968.0 L465.1 972.2 L467.6 978.0 L470.1 984.2 L476.1 999.6 L478.6 1005.9 L481.6 1013.1 L484.1 1018.8 L487.1 1025.3 L490.1 1031.3 L493.1 1036.8 L496.1 1041.9 L499.1 1046.5 L500.6 1048.7 L502.6 1051.4 L505.6 1055.3 L507.1 1057.1 L509.1 1059.3 L510.6 1060.9 L512.6 1063.0 L514.1 1064.4 L516.1 1066.3 L519.6 1069.3 L521.6 1070.8 L523.6 1072.3 L526.1 1074.1 L528.6 1075.7 L531.1 1077.2 L534.1 1078.9 L536.6 1080.2 L539.6 1081.7 L542.6 1083.0 L545.6 1084.3 L548.6 1085.4 L552.1 1086.6 L555.1 1087.6 L558.6 1088.7 L562.1 1089.6 L566.1 1090.6 L569.6 1091.4 L573.6 1092.3 L577.6 1093.0 L582.1 1093.7 L586.1 1094.3 L590.6 1094.9 L595.1 1095.4 L599.6 1095.9 L604.1 1096.2 L609.1 1096.6 L613.6 1096.8 L618.6 1097.0 L623.6 1097.1 L628.1 1097.1 L633.1 1097.0 L637.6 1096.9 L642.1 1096.8 L646.6 1096.5"/>
<path stroke="#0072BD" d="M35.6 1111.2 L43.1 1111.6 L51.6 1112.1 L61.1 1112.4 L72.1 1112.7 L85.1 1112.9 L99.6 1113.0 L116.6 1113.1 L135.1 1113.2 L156.6 1113.2 L178.6 1113.1 L199.1 1113.0 L218.6 1112.8 L236.1 1112.5 L252.1 1112.2 L266.6 1111.8 L279.6 1111.4 L289.1 1111.0 L298.1 1110.6 L306.6 1110.2 L314.1 1109.7 L321.6 1109.1 L328.6 1108.5 L335.1 1107.8 L341.1 1107.1 L347.1 1106.3 L352.6 1105.5 L357.6 1104.6 L362.6 1103.6 L367.6 1102.5 L372.1 1101.4 L376.6 1100.1 L380.6 1098.8 L384.6 1097.3 L388.1 1095.9 L391.6 1094.4 L394.6 1092.9 L397.6 1091.3 L400.6 1089.6 L403.6 1087.6 L406.6 1085.5 L409.6 1083.1 L412.1 1081.0 L414.6 1078.7 L417.1 1076.2 L419.6 1073.5 L422.1 1070.5 L424.6 1067.3 L426.6 1064.5 L428.6 1061.5 L430.6 1058.3 L432.6 1055.0 L434.6 1051.4 L436.6 1047.5 L438.6 1043.5 L440.6 1039.1 L442.6 1034.6 L445.6 1027.3 L449.1 1018.2 L452.1 1010.0 L458.6 991.7 L461.6 983.5 L464.1 977.3 L466.1 972.7 L467.6 969.7 L468.6 967.9 L470.1 965.6 L471.1 964.2 L472.1 963.1 L472.6 962.6 L473.6 961.8 L474.6 961.3 L475.1 961.1 L476.1 960.9 L477.1 960.9 L477.6 961.0 L478.6 961.3 L479.1 961.5 L480.1 962.1 L480.6 962.5 L481.6 963.3 L483.1 964.9 L484.6 966.8 L486.1 969.0 L487.6 971.5 L488.6 973.3 L490.1 976.2 L492.6 981.3 L495.6 987.9 L504.1 1007.2 L507.1 1013.7 L509.6 1018.9 L512.6 1024.8 L515.6 1030.3 L518.6 1035.4 L521.6 1040.2 L524.1 1043.9 L527.1 1048.0 L530.1 1051.7 L533.1 1055.2 L536.1 1058.4 L539.6 1061.8 L542.6 1064.5 L546.1 1067.4 L548.1 1068.9 L550.6 1070.7 L552.6 1072.0 L555.1 1073.6 L557.6 1075.1 L560.1 1076.4 L562.6 1077.7 L565.1 1079.0 L567.6 1080.1 L570.6 1081.4 L573.1 1082.4 L576.1 1083.5 L579.1 1084.5 L582.1 1085.4 L585.1 1086.3 L588.1 1087.1 L591.1 1087.9 L594.6 1088.7 L598.1 1089.4 L601.6 1090.1 L605.1 1090.6 L608.6 1091.2 L612.1 1091.6 L616.1 1092.1 L619.6 1092.5 L623.6 1092.8 L627.6 1093.1 L631.6 1093.3 L639.1 1093.5 L643.1 1093.5 L646.6 1093.4"/>
<path stroke="#D95319" d="M35.6 1110.9 L42.6 1111.4 L51.1 1111.9 L60.6 1112.2 L71.6 1112.5 L84.1 1112.7 L98.6 1112.9 L115.1 1113.0 L133.6 1113.1 L155.1 1113.1 L177.6 1113.0 L199.1 1112.9 L219.6 1112.7 L238.1 1112.4 L254.6 1112.1 L270.1 1111.8 L284.1 1111.3 L294.1 1111.0 L303.6 1110.5 L312.6 1110.1 L320.6 1109.6 L328.1 1109.0 L335.6 1108.4 L342.6 1107.7 L349.1 1107.0 L355.1 1106.2 L361.1 1105.4 L366.6 1104.4 L372.1 1103.4 L377.1 1102.3 L381.6 1101.2 L386.1 1100.0 L390.6 1098.7 L394.6 1097.3 L398.6 1095.8 L402.1 1094.3 L405.6 1092.7 L409.1 1090.9 L412.1 1089.2 L415.1 1087.4 L418.1 1085.4 L421.1 1083.2 L423.6 1081.2 L426.6 1078.6 L429.1 1076.2 L431.6 1073.7 L434.1 1070.9 L436.6 1067.9 L439.1 1064.7 L441.6 1061.2 L443.6 1058.2 L445.6 1055.1 L447.6 1051.7 L449.6 1048.1 L451.6 1044.4 L453.6 1040.4 L455.6 1036.2 L457.1 1032.9 L459.1 1028.4 L462.6 1020.0 L466.1 1011.2 L473.1 993.0 L476.1 985.5 L478.6 979.7 L480.1 976.5 L481.1 974.5 L482.6 971.8 L484.1 969.4 L485.6 967.3 L486.6 966.2 L487.6 965.2 L488.1 964.8 L489.1 964.2 L490.1 963.7 L490.6 963.6 L491.6 963.4 L492.6 963.4 L493.1 963.5 L494.1 963.8 L494.6 964.0 L495.6 964.5 L496.1 964.9 L497.1 965.6 L498.6 967.1 L500.1 968.9 L501.6 970.9 L503.6 974.0 L504.6 975.8 L506.1 978.5 L509.1 984.4 L511.6 989.6 L520.1 1007.8 L523.1 1014.0 L525.6 1018.9 L528.6 1024.6 L531.6 1029.9 L534.6 1034.8 L537.6 1039.4 L540.1 1042.9 L542.6 1046.3 L545.1 1049.4 L548.1 1052.9 L550.6 1055.6 L553.6 1058.6 L556.6 1061.4 L559.6 1063.9 L561.6 1065.5 L563.6 1067.0 L565.6 1068.5 L567.6 1069.8 L569.6 1071.1 L572.1 1072.6 L574.1 1073.8 L576.6 1075.1 L581.1 1077.3 L583.6 1078.4 L586.1 1079.5 L591.1 1081.4 L593.6 1082.2 L596.6 1083.2 L602.1 1084.7 L605.1 1085.5 L608.1 1086.2 L614.1 1087.4 L617.1 1087.9 L620.6 1088.4 L627.1 1089.2 L633.6 1089.8 L640.1 1090.1 L646.6 1090.3"/>
<path stroke="#EDB120" d="M35.6 1110.8 L42.6 1111.3 L51.1 1111.8 L60.6 1112.2 L71.6 1112.5 L84.1 1112.7 L98.6 1112.9 L115.1 1113.1 L134.1 1113.1 L157.1 1113.2 L181.6 1113.1 L205.1 1113.0 L227.6 1112.8 L247.6 1112.6 L266.1 1112.3 L283.1 1111.9 L298.6 1111.5 L309.6 1111.1 L319.6 1110.7 L329.1 1110.2 L338.1 1109.7 L346.6 1109.2 L354.6 1108.6 L362.1 1107.9 L369.1 1107.2 L375.6 1106.4 L382.1 1105.6 L388.1 1104.7 L393.6 1103.7 L399.1 1102.6 L404.1 1101.6 L409.1 1100.3 L414.1 1098.9 L418.6 1097.5 L422.6 1096.2 L426.6 1094.6 L430.1 1093.2 L433.6 1091.5 L437.1 1089.8 L440.6 1087.8 L443.6 1086.0 L446.6 1084.0 L449.6 1081.8 L452.6 1079.4 L455.6 1076.9 L458.6 1074.1 L461.1 1071.5 L463.6 1068.8 L466.1 1065.9 L468.6 1062.8 L470.6 1060.1 L473.1 1056.6 L475.1 1053.5 L477.6 1049.5 L479.6 1046.1 L481.6 1042.6 L483.6 1038.8 L487.1 1031.9 L489.1 1027.7 L491.1 1023.3 L495.1 1014.3 L502.6 996.9 L505.6 990.2 L507.1 987.1 L508.6 984.0 L510.1 981.2 L511.1 979.4 L512.6 976.9 L514.1 974.7 L515.6 972.8 L517.1 971.2 L518.1 970.3 L518.6 970.0 L519.6 969.3 L520.1 969.1 L521.1 968.7 L521.6 968.5 L522.6 968.4 L523.1 968.4 L524.1 968.5 L524.6 968.6 L525.6 968.9 L527.1 969.5 L528.6 970.5 L530.1 971.7 L531.6 973.1 L533.1 974.8 L535.1 977.3 L536.6 979.5 L538.1 981.8 L541.1 986.7 L544.6 992.9 L552.6 1007.7 L556.6 1014.9 L559.1 1019.2 L561.1 1022.6 L563.6 1026.6 L565.6 1029.6 L568.1 1033.3 L570.6 1036.8 L573.1 1040.1 L575.6 1043.2 L578.1 1046.1 L581.1 1049.4 L583.6 1052.0 L586.6 1054.9 L589.6 1057.5 L593.1 1060.4 L596.1 1062.7 L599.6 1065.1 L603.1 1067.3 L606.6 1069.3 L610.1 1071.2 L613.6 1072.9 L617.6 1074.6 L621.6 1076.2 L625.6 1077.5 L629.6 1078.8 L633.6 1079.8 L638.1 1080.9 L642.1 1081.7 L646.6 1082.4"/>
</g>
<text class="tk" x="31.8" y="1120.5" text-anchor="end">0</text>
<text class="tk" x="31.8" y="1089.2" text-anchor="end">0.1</text>
<text class="tk" x="31.8" y="1057.9" text-anchor="end">0.2</text>
<text class="tk" x="31.8" y="1026.5" text-anchor="end">0.3</text>
<text class="tk" x="31.8" y="995.2" text-anchor="end">0.4</text>
<text class="tk" x="31.8" y="963.9" text-anchor="end">0.5</text>
<text class="tk" x="31.8" y="932.6" text-anchor="end">0.6</text>
<text class="tk" x="31.8" y="901.3" text-anchor="end">0.7</text>
<text class="tk" x="31.8" y="869.9" text-anchor="end">0.8</text>
<text class="tk" x="31.8" y="838.6" text-anchor="end">0.9</text>
<text class="tk" x="31.8" y="807.3" text-anchor="end">1</text>
<text class="tk" x="35.6" y="1131.5" text-anchor="middle">4.1</text>
<text class="tk" x="137.3" y="1131.5" text-anchor="middle">4.2</text>
<text class="tk" x="238.9" y="1131.5" text-anchor="middle">4.3</text>
<text class="tk" x="340.6" y="1131.5" text-anchor="middle">4.4</text>
<text class="tk" x="442.2" y="1131.5" text-anchor="middle">4.5</text>
<text class="tk" x="543.8" y="1131.5" text-anchor="middle">4.6</text>
<text class="tk" x="645.5" y="1131.5" text-anchor="middle">4.7</text>
<text class="lb" x="340.6" y="1149.5" text-anchor="middle" letter-spacing="0.42">Wavelength (<tspan class="gk">μ</tspan>m)</text>
<text class="lb" transform="translate(11.0 959.5) rotate(-90)" text-anchor="middle" letter-spacing="0.25">Transmittance</text>
<text class="cap" x="346.5" y="1175.8" text-anchor="middle">(c)</text>
<text class="an" x="56.3" y="838.8">5(c) <tspan class="gk" font-size="11">η</tspan> = 0.8</text>
<path d="M404.2 816.4 h19" stroke="#0072BD" stroke-width="2.20" fill="none"/>
<text class="lg" x="425.2" y="820.2">CSF</text>
<path d="M404.2 830.0 h19" stroke="#D95319" stroke-width="2.20" fill="none"/>
<text class="lg" x="425.2" y="833.8">Wall of solid brain</text>
<path d="M404.2 843.7 h19" stroke="#EDB120" stroke-width="2.20" fill="none"/>
<text class="lg" x="425.2" y="847.5">Multi sclerosis</text>
<path d="M404.2 857.4 h19" stroke="#7E2F8E" stroke-width="2.20" fill="none"/>
<text class="lg" x="425.2" y="861.1">Oligodendroglioma</text>
<path d="M404.2 871.0 h19" stroke="#77AC30" stroke-width="2.20" fill="none"/>
<text class="lg" x="425.2" y="874.8">Gray matter</text>
<path d="M527.1 816.4 h19" stroke="#4DBEEE" stroke-width="2.20" fill="none"/>
<text class="lg" x="548.2" y="820.2">White matter</text>
<path d="M527.1 830.0 h19" stroke="#A2142F" stroke-width="2.20" fill="none"/>
<text class="lg" x="548.2" y="833.8">Low grade glioma</text>
<path d="M527.1 843.7 h19" stroke="#0072BD" stroke-width="2.20" fill="none"/>
<text class="lg" x="548.2" y="847.5">Medulloblastoma</text>
<path d="M527.1 857.4 h19" stroke="#D95319" stroke-width="2.20" fill="none"/>
<text class="lg" x="548.2" y="861.1">Glioblastoma</text>
<path d="M527.1 871.0 h19" stroke="#EDB120" stroke-width="2.20" fill="none"/>
<text class="lg" x="548.2" y="874.8">Lymphoma</text>
</g>
</svg>
</body></html>
